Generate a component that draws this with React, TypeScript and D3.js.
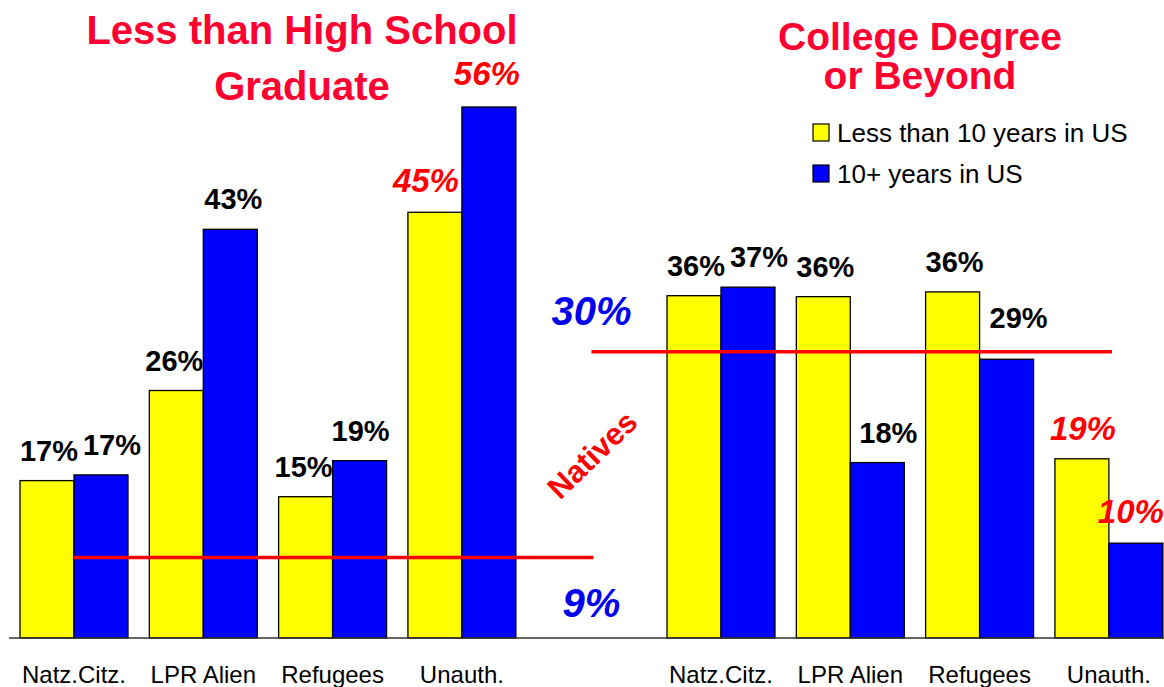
import React from "react";
import * as d3 from "d3";

// ---------- data ----------
const categories = ["Natz.Citz.", "LPR Alien", "Refugees", "Unauth."];
const seriesNames = ["Less than 10 years in US", "10+ years in US"];

const lessHSUnder10 = [16.6, 26.1, 14.9, 44.9];
const lessHS10Plus = [17.2, 43.1, 18.7, 56.0];
const lessHSUnder10Labels = ["17%", "26%", "15%", "45%"];
const lessHS10PlusLabels = ["17%", "43%", "19%", "56%"];
const lessHSNatives = 8.5;
const lessHSNativesLabel = "9%";

const collegeUnder10 = [36.1, 36.0, 36.5, 18.9];
const college10Plus = [37.0, 18.5, 29.4, 10.0];
const collegeUnder10Labels = ["36%", "36%", "36%", "19%"];
const college10PlusLabels = ["37%", "18%", "29%", "10%"];
const collegeNatives = 30.2;
const collegeNativesLabel = "30%";

const highlightCategory = "Unauth.";

// ---------- layout ----------
const W = 1164;
const H = 687;
const FONT = "'Liberation Sans', Arial, Helvetica, sans-serif";
const YELLOW = "#ffff00";
const BLUE = "#0000ff";
const RED = "#ff0000";
const TITLE_RED = "#ff0030";
const NAT_BLUE = "#0000ee";

const y = d3.scaleLinear().domain([0, 56]).range([638, 107]);
const step = 129.3;
const leftStart = 74 - step / 2;
const rightStart = 721 - step / 2;
const xLeft = d3
  .scaleBand<string>()
  .domain(categories)
  .range([leftStart, leftStart + step * 4])
  .paddingInner(0.165)
  .paddingOuter(0.0825);
const xRight = d3
  .scaleBand<string>()
  .domain(categories)
  .range([rightStart, rightStart + step * 4])
  .paddingInner(0.165)
  .paddingOuter(0.0825);
const gapMid = (leftStart + step * 4 + rightStart) / 2;

// label nudges (layout only)
const leftDx = [[2, -2, -2, -9], [11, 3, 1, -2]];
const leftDy = [[0, 0, 0, 0], [0, 0, 0, -2]];
const rightDx = [[2, 2, 2, 1], [11, 11, 12, -5]];
const rightDy = [[0, 0, 0, 1], [0, 0, -11, 0]];

type PanelProps = {
  x: d3.ScaleBand<string>;
  a: number[];
  b: number[];
  al: string[];
  bl: string[];
  dx: number[][];
  dy: number[][];
};

function Panel({ x, a, b, al, bl, dx, dy }: PanelProps) {
  const bw = x.bandwidth() / 2;
  const series = [a, b];
  const labels = [al, bl];
  return (
    <g>
      {series.map((vals, si) =>
        vals.map((v, i) => {
          const cat = categories[i];
          const x0 = (x(cat) as number) + si * bw;
          return (
            <rect
              key={`r${si}-${i}`}
              x={x0}
              y={y(v)}
              width={bw}
              height={y(0) - y(v)}
              fill={si === 0 ? YELLOW : BLUE}
              stroke="#000"
              strokeWidth={1.3}
            />
          );
        })
      )}
      {series.map((vals, si) =>
        vals.map((v, i) => {
          const cat = categories[i];
          const hl = cat === highlightCategory;
          const cx = (x(cat) as number) + si * bw + bw / 2 + dx[si][i];
          return (
            <text
              key={`t${si}-${i}`}
              x={cx}
              y={y(v) - 20 + dy[si][i]}
              textAnchor="middle"
              fontFamily={FONT}
              fontWeight="bold"
              fontStyle={hl ? "italic" : "normal"}
              fontSize={hl ? 33 : 29}
              fill={hl ? RED : "#000"}
            >
              {labels[si][i]}
            </text>
          );
        })
      )}
      {categories.map((c) => (
        <text
          key={`c${c}`}
          x={(x(c) as number) + x.bandwidth() / 2}
          y={683}
          textAnchor="middle"
          fontFamily={FONT}
          fontSize={24}
          fill="#000"
        >
          {c}
        </text>
      ))}
    </g>
  );
}

export default function App() {
  const leftLineX0 = (xLeft(categories[0]) as number) + xLeft.bandwidth() / 2;
  const rightLineX1 =
    (xRight(categories[3]) as number) + xRight.bandwidth() / 2 + 3;
  return (
    <svg
      width={W}
      height={H}
      style={{ position: "absolute", left: 0, top: 0, background: "#fff" }}
    >
      <rect x={0} y={0} width={W} height={H} fill="#fff" />
      {/* titles */}
      <text
        x={302}
        y={44}
        textAnchor="middle"
        fontFamily={FONT}
        fontWeight="bold"
        fontSize={40}
        fill={TITLE_RED}
      >
        Less than High School
      </text>
      <text
        x={302}
        y={100}
        textAnchor="middle"
        fontFamily={FONT}
        fontWeight="bold"
        fontSize={40}
        fill={TITLE_RED}
      >
        Graduate
      </text>
      <text
        x={920}
        y={50}
        textAnchor="middle"
        fontFamily={FONT}
        fontWeight="bold"
        fontSize={39}
        fill={TITLE_RED}
      >
        College Degree
      </text>
      <text
        x={920}
        y={89}
        textAnchor="middle"
        fontFamily={FONT}
        fontWeight="bold"
        fontSize={39}
        fill={TITLE_RED}
      >
        or Beyond
      </text>

      {/* legend */}
      {seriesNames.map((s, i) => (
        <g key={s} transform={`translate(813, ${124 + i * 41})`}>
          <rect
            x={0}
            y={0}
            width={16}
            height={17}
            fill={i === 0 ? YELLOW : BLUE}
            stroke="#000"
            strokeWidth={1.2}
          />
          <text x={24} y={17.5} fontFamily={FONT} fontSize={26} fill="#000">
            {s}
          </text>
        </g>
      ))}

      <Panel
        x={xLeft}
        a={lessHSUnder10}
        b={lessHS10Plus}
        al={lessHSUnder10Labels}
        bl={lessHS10PlusLabels}
        dx={leftDx}
        dy={leftDy}
      />
      <Panel
        x={xRight}
        a={collegeUnder10}
        b={college10Plus}
        al={collegeUnder10Labels}
        bl={college10PlusLabels}
        dx={rightDx}
        dy={rightDy}
      />

      {/* axis baseline */}
      <line x1={9} x2={W} y1={y(0)} y2={y(0)} stroke="#333" strokeWidth={1.6} />

      {/* natives lines */}
      <line
        x1={leftLineX0}
        x2={gapMid + 2}
        y1={y(lessHSNatives)}
        y2={y(lessHSNatives)}
        stroke={RED}
        strokeWidth={3.5}
      />
      <line
        x1={gapMid}
        x2={rightLineX1}
        y1={y(collegeNatives)}
        y2={y(collegeNatives)}
        stroke={RED}
        strokeWidth={3.5}
      />
      <text
        x={gapMid}
        y={325}
        textAnchor="middle"
        fontFamily={FONT}
        fontWeight="bold"
        fontStyle="italic"
        fontSize={40}
        fill={NAT_BLUE}
      >
        {collegeNativesLabel}
      </text>
      <text
        x={gapMid}
        y={617}
        textAnchor="middle"
        fontFamily={FONT}
        fontWeight="bold"
        fontStyle="italic"
        fontSize={40}
        fill={NAT_BLUE}
      >
        {lessHSNativesLabel}
      </text>
      <text
        x={0}
        y={0}
        transform={`translate(${gapMid + 1}, ${455}) rotate(-44)`}
        textAnchor="middle"
        dominantBaseline="central"
        fontFamily={FONT}
        fontWeight="bold"
        fontSize={31}
        fill={RED}
      >
        Natives
      </text>
    </svg>
  );
}
